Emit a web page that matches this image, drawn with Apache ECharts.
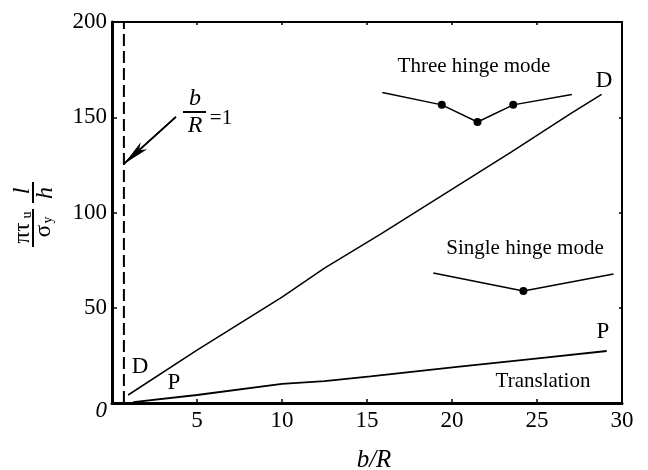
<!DOCTYPE html>
<html>
<head>
<meta charset="utf-8">
<style>html,body{margin:0;padding:0;background:#fff}#c{width:648px;height:470px}</style>
<script src="https://cdn.jsdelivr.net/npm/echarts@6/dist/echarts.min.js"></script>
</head>
<body>
<div id="c"></div>
<script>
const xTicks = [0, 5, 10, 15, 20, 25, 30];
const yTicks = [0, 50, 100, 150, 200];
const lineD = [[0.95, 4.2], [5, 27.8], [10, 55.6], [12.5, 70.8], [15.8, 88.7], [23.5, 131.8], [27, 152], [28.8, 162]];
const lineP = [[1.25, 0.5], [5, 4.2], [10, 10], [12.5, 11.5], [15.2, 14], [20.3, 19], [25.2, 23.6], [29.1, 27.3]];
const limitLine = [[0.7, 0], [0.7, 200]];
const threeHinge = [[15.9, 163], [19.4, 156.5], [21.5, 147.5], [23.6, 156.5], [27.05, 162]];
const singleHinge = [[18.9, 68.2], [24.2, 58.8], [29.5, 67.7]];
const arrowPts = [[3.76, 150.2], [0.7, 125.5]];

const F = '"Liberation Serif", serif';
const K = '#000';
const chart = echarts.init(document.getElementById('c'), null, {renderer: 'canvas'});

function plain(name, data, width, extra) {
  return Object.assign({
    name, type: 'line', data, symbol: 'none', silent: true, animation: false,
    lineStyle: {color: K, width: width}
  }, extra || {});
}
function dots(pts, isDot) {
  return pts.map((p, i) => ({
    value: p,
    symbol: isDot(i) ? 'circle' : 'none',
    symbolSize: 8,
    itemStyle: {color: K}
  }));
}
function txt(x, y, s, size, extra) {
  return {type: 'text', x, y, silent: true,
    style: Object.assign({text: s, fill: K, font: size + 'px ' + F, textAlign: 'center', textVerticalAlign: 'middle'}, extra || {})};
}
function bar(x, y, w, h) {
  return {type: 'rect', silent: true, shape: {x, y, width: w, height: h}, style: {fill: K}};
}
function rot(x, y, s, size, italic) {
  return {type: 'text', x, y, rotation: Math.PI / 2, silent: true,
    style: {text: s, fill: K, font: (italic ? 'italic ' : '') + size + 'px ' + F, textAlign: 'center', textVerticalAlign: 'middle'}};
}

const hiddenAxis = {
  axisLabel: {show: false},
  axisLine: {show: true, onZero: false, lineStyle: {color: K, width: 2}},
  axisTick: {show: true, inside: true, length: 3, lineStyle: {color: K, width: 1.5}},
  splitLine: {show: false}
};

chart.setOption({
  animation: false,
  backgroundColor: '#fff',
  grid: {left: 112, top: 22, width: 510, height: 381, show: false},
  xAxis: [
    {type: 'value', min: 0, max: 30, interval: 5, position: 'bottom',
      axisLine: {show: true, onZero: false, lineStyle: {color: K, width: 3}},
      axisTick: {show: true, inside: true, length: 4, lineStyle: {color: K, width: 1.5}},
      splitLine: {show: false},
      axisLabel: {color: K, fontFamily: F, fontSize: 23, margin: 6, showMinLabel: true,
        formatter: v => (xTicks.includes(v) && v !== 0 ? String(v) : '')}},
    Object.assign({type: 'value', min: 0, max: 30, interval: 5, position: 'top'}, hiddenAxis)
  ],
  yAxis: [
    {type: 'value', min: 0, max: 200, interval: 50, position: 'left',
      axisLine: {show: true, onZero: false, lineStyle: {color: K, width: 3}},
      axisTick: {show: true, inside: true, length: 5, lineStyle: {color: K, width: 1.5}},
      splitLine: {show: false},
      axisLabel: {color: K, fontFamily: F, fontSize: 23, margin: 5,
        formatter: v => (v === 0 ? '{z|0}' : String(yTicks[yTicks.indexOf(v)])),
        rich: {z: {fontFamily: F, fontStyle: 'italic', fontSize: 23, color: K, padding: [16, 0, 0, 0]}}}},
    Object.assign({type: 'value', min: 0, max: 200, interval: 50, position: 'right'}, hiddenAxis)
  ],
  series: [
    plain('limit', limitLine, 2, {lineStyle: {color: K, width: 2, type: [12, 5]}}),
    plain('D', lineD, 1.5),
    plain('P', lineP, 1.8),
    {name: 'three', type: 'line', data: dots(threeHinge, i => i > 0 && i < 4), showSymbol: true, silent: true,
      lineStyle: {color: K, width: 1.5}, itemStyle: {color: K}, showAllSymbol: true},
    {name: 'single', type: 'line', data: dots(singleHinge, i => i === 1), showSymbol: true, silent: true,
      lineStyle: {color: K, width: 1.5}, itemStyle: {color: K}, showAllSymbol: true},
    plain('arrow', arrowPts, 1.6, {
      markLine: {
        silent: true, animation: false,
        symbol: ['none', 'arrow'], symbolSize: [7, 27],
        lineStyle: {color: K, width: 1.6, type: 'solid'},
        label: {show: false},
        data: [[{coord: arrowPts[0]}, {coord: arrowPts[1]}]]
      }
    }),
    {name: 'frame', type: 'line', xAxisIndex: 1, yAxisIndex: 1, data: [[0, 0]], symbol: 'none', silent: true}
  ],
  graphic: [
    txt(474, 66, 'Three hinge mode', 21),
    txt(525, 248, 'Single hinge mode', 21),
    txt(543, 381, 'Translation', 21),
    txt(604, 81, 'D', 23),
    txt(140, 367, 'D', 23),
    txt(174, 383, 'P', 23),
    txt(603, 332, 'P', 23),
    txt(374, 460, 'b/R', 25, {font: 'italic 25px ' + F}),
    txt(195, 99, 'b', 24, {font: 'italic 24px ' + F}),
    bar(183, 111, 23, 2),
    txt(195, 126, 'R', 24, {font: 'italic 24px ' + F}),
    txt(221, 118, '=1', 21),
    rot(23, 191, 'l', 24, true),
    rot(46, 193, 'h', 24, true),
    bar(32, 182, 2, 21),
    bar(32, 209, 2, 38),
    rot(23, 233, 'πτ', 23, false),
    rot(27, 215, 'u', 14, false),
    rot(44, 231, 'σ', 23, false),
    rot(48, 220, 'y', 14, false)
  ]
});
</script>
</body>
</html>
